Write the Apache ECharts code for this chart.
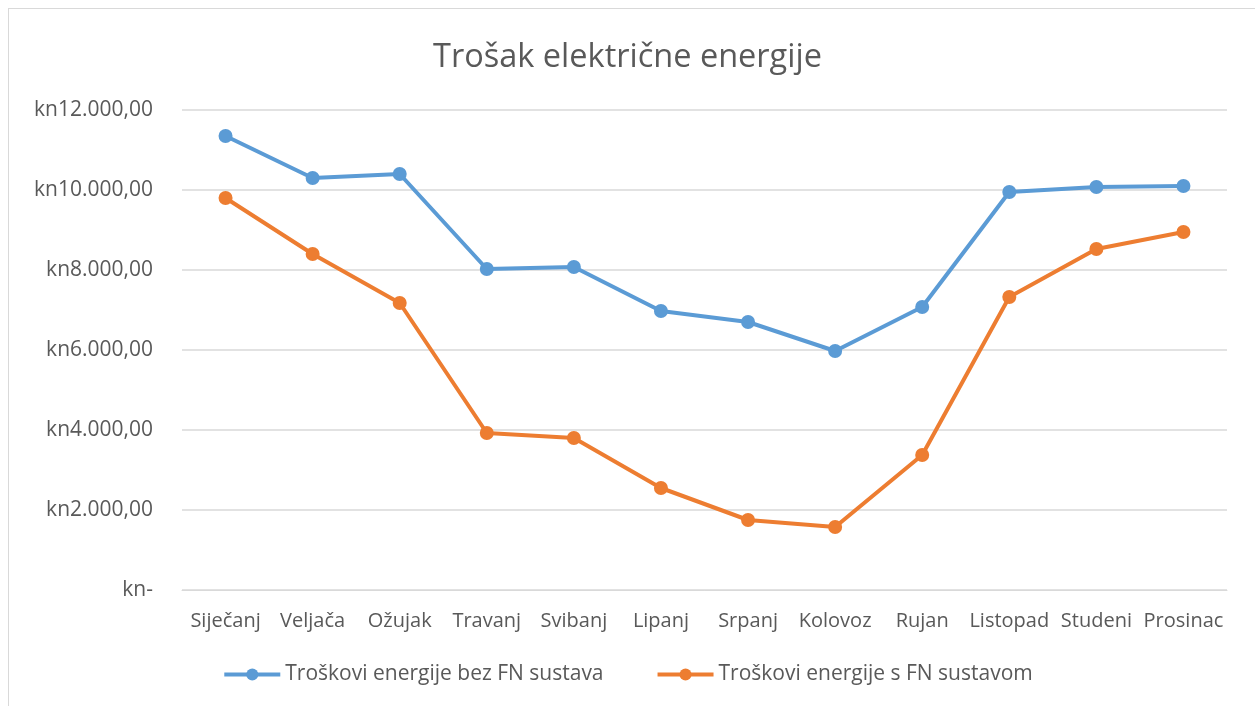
<!DOCTYPE html>
<html>
<head>
<meta charset="utf-8">
<script src="https://cdn.jsdelivr.net/npm/echarts@6/dist/echarts.min.js"></script>
<style>
  html, body { margin: 0; padding: 0; background: #fff; }
  #frame { position: absolute; left: 8px; top: 8px; width: 1260px; height: 710px; border: 1px solid #d9d9d9; box-sizing: border-box; }
  #chart { position: absolute; left: 0; top: 0; width: 1255px; height: 706px; }
</style>
</head>
<body>
<div id="frame"></div>
<div id="chart"></div>
<script>
const months = ['Siječanj', 'Veljača', 'Ožujak', 'Travanj', 'Svibanj', 'Lipanj',
  'Srpanj', 'Kolovoz', 'Rujan', 'Listopad', 'Studeni', 'Prosinac']
const bezFN = [11350, 10300, 10400, 8025, 8075, 6975, 6700, 5975, 7075, 9950, 10075, 10100]
const sFN = [9800, 8400, 7175, 3925, 3800, 2550, 1750, 1575, 3375, 7325, 8525, 8950]
const seriesNames = ['Troškovi energije bez FN sustava', 'Troškovi energije s FN sustavom']

const font = '"Open Sans", "Noto Sans", sans-serif'
const textColor = '#595959'

function formatKn(v) {
  if (v === 0) return 'kn-'
  const whole = Math.round(v).toString().replace(/\B(?=(\d{3})+(?!\d))/g, '.')
  return 'kn' + whole + ',00'
}

const chart = echarts.init(document.getElementById('chart'))
chart.setOption({
  animation: false,
  textStyle: { fontFamily: font },
  title: {
    text: 'Trošak električne energije',
    left: 'center',
    top: 36,
    textStyle: { fontFamily: font, fontSize: 32.5, fontWeight: 'normal', color: textColor }
  },
  legend: {
    data: seriesNames,
    bottom: 16,
    left: 'center',
    itemWidth: 56,
    itemHeight: 15,
    itemGap: 52,
    lineStyle: { width: 4 },
    textStyle: { fontFamily: font, fontSize: 21, color: textColor }
  },
  grid: {
    left: 182,
    right: 28,
    top: 110,
    bottom: 116
  },
  xAxis: {
    type: 'category',
    data: months,
    axisLine: { lineStyle: { color: '#d9d9d9' } },
    axisTick: { show: false },
    axisLabel: { fontFamily: font, fontSize: 20, color: textColor, margin: 21, interval: 0 }
  },
  yAxis: {
    type: 'value',
    min: 0,
    max: 12000,
    interval: 2000,
    axisLine: { show: false },
    axisTick: { show: false },
    splitLine: { lineStyle: { color: '#d9d9d9', width: 1.5 } },
    axisLabel: { fontFamily: font, fontSize: 21, color: textColor, margin: 29, formatter: formatKn }
  },
  series: [
    {
      name: seriesNames[0],
      type: 'line',
      data: bezFN,
      color: '#5b9bd5',
      symbol: 'circle',
      symbolSize: 14,
      lineStyle: { width: 4 }
    },
    {
      name: seriesNames[1],
      type: 'line',
      data: sFN,
      color: '#ed7d31',
      symbol: 'circle',
      symbolSize: 14,
      lineStyle: { width: 4 }
    }
  ]
})
</script>
</body>
</html>
